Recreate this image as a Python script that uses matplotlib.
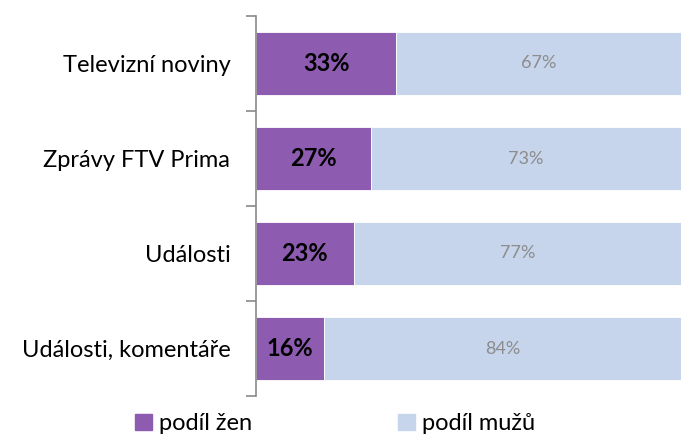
import numpy as np
import matplotlib.pyplot as plt
from matplotlib.patches import Patch

plt.rcParams["font.family"] = ["Lato", "DejaVu Sans"]

# data
categories = ["Televizní noviny", "Zprávy FTV Prima", "Události", "Události, komentáře"]
zeny = [33, 27, 23, 16]
muzi = [67, 73, 77, 84]
series_names = ["podíl žen", "podíl mužů"]

c_zeny = "#8D5BB0"
c_muzi = "#C6D4EC"

fig = plt.figure(figsize=(6.81, 4.34), dpi=100)
ax = fig.add_axes([256 / 681, 1 - 396 / 434, 425 / 681, 380 / 434])

y = np.arange(len(categories))
ax.barh(y, zeny, height=0.67, color=c_zeny, edgecolor="white", linewidth=0.6)
ax.barh(y, muzi, left=zeny, height=0.67, color=c_muzi, edgecolor="white", linewidth=0.6)

for i in range(len(categories)):
    ax.text(zeny[i] / 2, y[i], f"{zeny[i]}%", ha="center", va="center",
            fontsize=17, fontweight="bold", color="black")
    ax.text(zeny[i] + muzi[i] / 2, y[i], f"{muzi[i]}%", ha="center", va="center",
            fontsize=13, color="#8C8C8C")

ax.set_xlim(0, 100)
ax.set_ylim(len(categories) - 0.5, -0.5)
ax.set_yticks(np.arange(len(categories) + 1) - 0.5, minor=False)
ax.set_yticklabels([])
ax.set_yticks(y, minor=True)
ax.set_yticklabels(categories, minor=True, fontsize=17)
ax.tick_params(axis="y", which="major", length=7, color="#898989", width=1.2)
ax.tick_params(axis="y", which="minor", length=0, pad=18.5)
ax.set_xticks([])
for s in ["top", "right", "bottom"]:
    ax.spines[s].set_visible(False)
ax.spines["left"].set_color("#898989")
ax.spines["left"].set_linewidth(1.2)

handles = [Patch(color=c_zeny), Patch(color=c_muzi)]
fig.legend(handles, series_names, loc="lower left", bbox_to_anchor=(114 / 681, -0.05),
           ncol=2, frameon=False, fontsize=17, handlelength=0.7, handleheight=0.7,
           handletextpad=0.3, columnspacing=6.2)

fig.savefig("out.png", dpi=100)
